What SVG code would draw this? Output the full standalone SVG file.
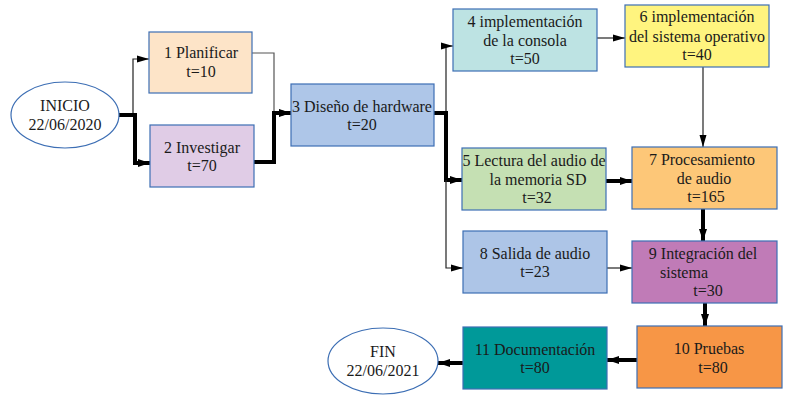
<svg xmlns="http://www.w3.org/2000/svg" width="789" height="401" viewBox="0 0 789 401">
<style>
.box{stroke:#3c6eb4;stroke-width:1.2}
.ell{fill:#fff;stroke:#3c6eb4;stroke-width:1.2}
text{font-family:"Liberation Serif","Times New Roman",serif;font-size:16px;fill:#1a1a1a;text-anchor:middle}
.thin{fill:none;stroke:#222;stroke-width:1.2;marker-end:url(#a)}
.thick{fill:none;stroke:#000;stroke-width:4;marker-end:url(#b)}
</style>
<defs>
<marker id="a" markerUnits="userSpaceOnUse" viewBox="0 0 12 8" refX="12" refY="4" markerWidth="12" markerHeight="8" orient="auto"><path d="M0,0.5L12,4L0,7.5z" fill="#000"/></marker>
<marker id="b" markerUnits="userSpaceOnUse" viewBox="0 0 12 10" refX="12" refY="5" markerWidth="12" markerHeight="10" orient="auto"><path d="M0,1L12,5L0,9z" fill="#000"/></marker>
</defs>
<g id="connectors">
<path class="thin" d="M119,115H133V59H149"/>
<path class="thick" d="M119,115H135V163H150"/>
<path class="thin" d="M252,53H274V113H291" style="stroke:#555"/>
<path class="thick" d="M254,162H274V113H291"/>
<path class="thin" d="M434,113H446V46H453"/>
<path class="thick" d="M434,113H446V180H462"/>
<path class="thin" d="M446,180V268H463"/>
<path class="thin" d="M597,38H625"/>
<path class="thin" d="M703,67V147"/>
<path class="thick" d="M606,181H632"/>
<path class="thin" d="M607,268H632"/>
<path class="thick" d="M703,209V241"/>
<path class="thick" d="M705,303V326"/>
<path class="thick" d="M637,360H607"/>
<path class="thick" d="M463,363H438"/>
</g>
<g id="inicio"><ellipse class="ell" cx="65" cy="115" rx="54" ry="33"/><text x="65" y="111">INICIO</text><text x="65" y="130">22/06/2020</text></g>
<g id="n1"><rect class="box" x="149" y="32" width="103" height="61" fill="#fde4c8"/><text x="201" y="58">1 Planificar</text><text x="201" y="77">t=10</text></g>
<g id="n2"><rect class="box" x="150" y="125" width="104" height="62" fill="#e0cce6"/><text x="202" y="153">2 Investigar</text><text x="202" y="171">t=70</text></g>
<g id="n3"><rect class="box" x="291" y="84" width="143" height="62" fill="#aec6e8"/><text x="362" y="112">3 Diseño de hardware</text><text x="362" y="130">t=20</text></g>
<g id="n4"><rect class="box" x="453" y="9" width="144" height="62" fill="#bde3e3"/><text x="525" y="27">4 implementación</text><text x="525" y="46">de la consola</text><text x="525" y="64">t=50</text></g>
<g id="n6"><rect class="box" x="625" y="5" width="144" height="62" fill="#fff47f"/><text x="697" y="22">6 implementación</text><text x="697" y="42">del sistema operativo</text><text x="697" y="60">t=40</text></g>
<g id="n5"><rect class="box" x="462" y="148" width="144" height="62" fill="#c5e0b3"/><text x="534" y="166">5 Lectura del audio de</text><text x="538" y="185">la memoria SD</text><text x="537" y="203">t=32</text></g>
<g id="n7"><rect class="box" x="632" y="147" width="145" height="62" fill="#fdc778"/><text x="702" y="165">7 Procesamiento</text><text x="704" y="184">de audio</text><text x="706" y="202">t=165</text></g>
<g id="n8"><rect class="box" x="463" y="231" width="144" height="62" fill="#adc5e7"/><text x="535" y="259">8 Salida de audio</text><text x="535" y="277">t=23</text></g>
<g id="n9"><rect class="box" x="632" y="241" width="145" height="62" fill="#c07bb7"/><text x="703" y="259">9 Integración del</text><text x="684" y="278">sistema</text><text x="708" y="296">t=30</text></g>
<g id="n10"><rect class="box" x="637" y="326" width="145" height="62" fill="#f79646"/><text x="709" y="354">10 Pruebas</text><text x="713" y="373">t=80</text></g>
<g id="n11"><rect class="box" x="463" y="327" width="144" height="62" fill="#009999"/><text x="535" y="355">11 Documentación</text><text x="535" y="373">t=80</text></g>
<g id="fin"><ellipse class="ell" cx="383" cy="361" rx="55" ry="33"/><text x="383" y="357">FIN</text><text x="383" y="376">22/06/2021</text></g>
</svg>
